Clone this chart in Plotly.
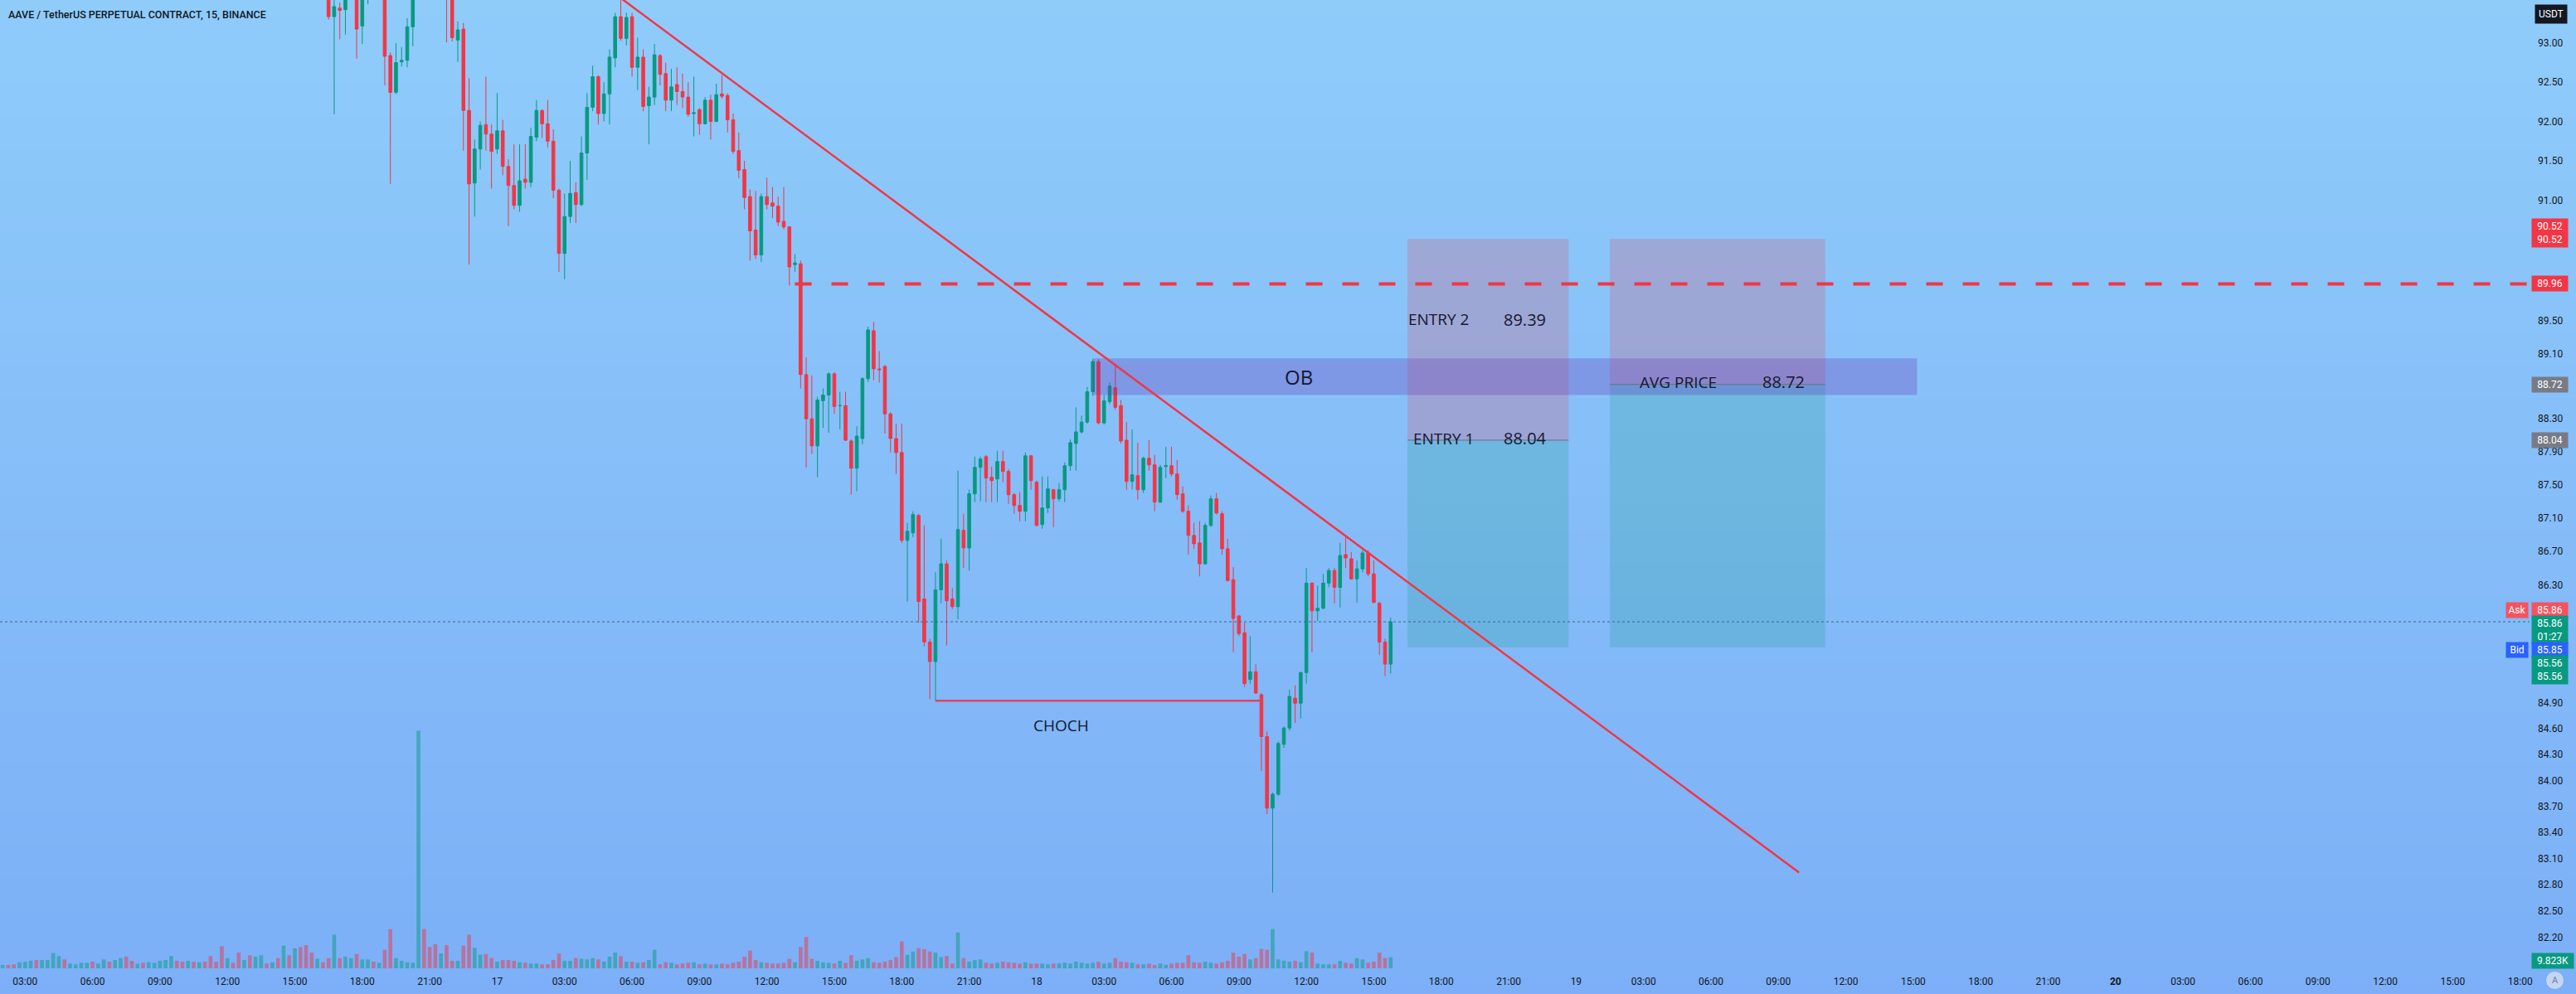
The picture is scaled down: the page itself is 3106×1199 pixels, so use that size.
import numpy as np
import pandas as pd
import plotly.graph_objects as go

# ---------------- data ----------------
VOL_START = "2023-01-16 02:00"      # first volume bar (15 min bars)
CANDLE_START = "2023-01-16 16:30"   # first candle visible in the price window

open_ = [
    93.75, 93.34, 93.45, 93.43, 93.62, 93.88, 93.22, 93.65, 93.82, 93.70,
    93.90, 92.84, 92.37, 92.76, 92.78, 93.21, 93.65, 94.10, 93.85, 93.75,
    93.70, 93.80, 93.60, 93.04, 93.18, 92.14, 91.22, 91.65, 91.96, 91.84,
    91.65, 91.88, 91.43, 91.19, 90.94, 91.27, 91.23, 91.80, 92.14, 91.97,
    91.75, 91.13, 90.34, 90.80, 91.10, 90.95, 91.60, 92.18, 92.57, 92.10,
    92.35, 92.81, 93.34, 93.06, 93.34, 92.69, 92.82, 92.20, 92.31, 92.84,
    92.61, 92.27, 92.47, 92.38, 92.31, 92.10, 92.15, 91.97, 92.27, 92.00,
    92.35, 92.33, 92.02, 91.63, 91.39, 91.05, 90.63, 90.32, 91.05, 90.97,
    90.93, 90.74, 90.67, 90.20, 90.21, 88.84, 88.30, 87.97, 88.52, 88.59,
    88.85, 88.46, 88.46, 88.03, 87.70, 88.06, 88.79, 89.38, 88.91, 88.94,
    88.36, 88.06, 87.89, 86.83, 86.92, 87.13, 86.13, 85.62, 85.39, 86.24,
    86.55, 86.13, 86.04, 86.95, 86.74, 87.39, 87.71, 87.84, 87.59, 87.57,
    87.78, 87.66, 87.38, 87.25, 87.18, 87.85, 87.53, 87.02, 87.22, 87.44,
    87.33, 87.44, 87.73, 88.00, 88.14, 88.26, 88.63, 89.00, 88.25, 88.51,
    88.68, 88.46, 88.04, 87.54, 87.61, 87.44, 87.82, 87.74, 87.29, 87.72,
    87.73, 87.63, 87.39, 87.18, 86.89, 86.80, 86.55, 87.01, 87.33, 87.15,
    86.73, 86.36, 85.93, 85.73, 85.18, 85.27, 85.00, 84.51, 83.68, 83.84,
    84.42, 84.61, 84.96, 84.90, 85.26, 86.32, 85.99, 86.02, 86.32, 86.47,
    86.27, 86.66, 86.61, 86.37, 86.49, 86.68, 86.43, 86.08, 85.62, 85.36,
]
high = [
    93.90, 93.60, 93.52, 93.70, 93.98, 93.95, 93.75, 93.95, 94.10, 94.00,
    94.00, 92.88, 93.00, 92.95, 93.32, 93.75, 94.40, 94.30, 94.05, 93.95,
    93.90, 93.88, 93.65, 93.28, 93.26, 92.55, 91.77, 92.00, 92.57, 91.96,
    92.36, 92.02, 91.52, 91.71, 91.71, 91.71, 91.92, 92.27, 92.15, 92.27,
    91.90, 91.15, 91.09, 91.50, 91.23, 91.81, 92.36, 92.71, 92.59, 92.50,
    92.92, 93.39, 93.60, 93.39, 93.39, 93.07, 92.92, 92.44, 92.99, 92.86,
    92.75, 92.67, 92.69, 92.61, 92.50, 92.57, 92.17, 92.31, 92.34, 92.48,
    92.59, 92.36, 92.10, 91.86, 91.50, 91.14, 91.12, 91.09, 91.29, 91.17,
    91.05, 91.17, 90.68, 90.33, 90.25, 89.05, 88.83, 88.57, 88.67, 88.87,
    88.87, 88.63, 88.63, 88.05, 88.21, 88.81, 89.43, 89.49, 89.13, 88.96,
    88.38, 88.24, 88.24, 87.04, 87.18, 87.15, 87.01, 85.66, 86.45, 86.85,
    86.59, 86.26, 87.67, 87.15, 87.44, 87.84, 87.84, 87.86, 87.72, 87.91,
    87.91, 87.69, 87.40, 87.41, 87.89, 87.86, 87.55, 87.60, 87.60, 87.45,
    87.52, 87.77, 88.05, 88.44, 88.34, 88.69, 89.03, 89.03, 88.59, 88.74,
    88.95, 88.53, 88.26, 88.17, 88.01, 87.84, 88.04, 87.86, 87.74, 87.96,
    87.96, 87.80, 87.48, 87.25, 87.04, 87.06, 87.04, 87.37, 87.40, 87.18,
    86.85, 86.51, 85.94, 85.85, 85.69, 85.36, 85.02, 84.57, 83.86, 84.45,
    84.63, 85.06, 85.11, 85.27, 86.50, 86.33, 86.29, 86.43, 86.50, 86.50,
    86.80, 86.87, 86.69, 86.59, 86.71, 86.71, 86.59, 86.10, 85.66, 85.91,
]
low = [
    93.30, 92.09, 93.05, 93.11, 93.58, 92.80, 92.99, 93.50, 93.60, 93.62,
    92.46, 91.21, 92.35, 92.70, 92.69, 92.96, 93.58, 93.70, 93.62, 93.60,
    93.58, 93.01, 93.02, 92.76, 91.63, 90.20, 90.80, 91.39, 91.63, 91.15,
    91.59, 91.32, 90.68, 90.89, 90.86, 91.15, 91.17, 91.75, 91.79, 91.67,
    91.03, 90.11, 90.02, 90.72, 90.72, 90.93, 91.26, 92.13, 91.96, 92.00,
    91.96, 92.69, 93.03, 92.97, 92.57, 92.40, 92.13, 91.71, 92.21, 92.46,
    92.13, 92.13, 92.21, 92.17, 92.06, 91.81, 91.83, 91.96, 91.77, 91.99,
    92.29, 91.86, 91.59, 91.28, 90.89, 90.25, 90.27, 90.23, 90.89, 90.78,
    90.68, 90.64, 89.94, 90.11, 88.67, 87.71, 87.87, 87.59, 88.19, 88.13,
    88.36, 88.17, 88.03, 87.38, 87.42, 87.99, 88.75, 88.77, 88.74, 88.12,
    87.89, 87.63, 86.80, 86.10, 86.87, 85.85, 85.57, 84.95, 84.93, 86.08,
    85.58, 86.01, 85.89, 86.50, 86.47, 87.29, 87.30, 87.29, 87.29, 87.29,
    87.53, 87.27, 87.15, 87.06, 87.06, 87.44, 87.00, 86.97, 87.16, 86.99,
    87.30, 87.29, 87.67, 87.67, 88.12, 88.24, 88.58, 88.23, 88.23, 88.48,
    88.41, 88.00, 87.44, 87.44, 87.32, 87.40, 87.67, 87.18, 87.28, 87.58,
    87.60, 87.32, 87.16, 86.66, 86.73, 86.40, 86.54, 86.99, 87.14, 86.66,
    86.34, 85.50, 85.69, 85.09, 85.13, 85.01, 84.11, 83.61, 82.71, 83.82,
    84.38, 84.58, 84.67, 84.72, 85.13, 85.50, 85.87, 86.01, 86.27, 86.08,
    86.03, 86.50, 86.36, 86.09, 86.45, 86.40, 86.08, 85.47, 85.22, 85.25,
]
close = [
    93.34, 93.47, 93.42, 93.62, 93.88, 93.18, 93.65, 93.82, 93.70, 93.90,
    92.83, 92.37, 92.75, 92.78, 93.21, 93.65, 94.10, 93.85, 93.75, 93.70,
    93.80, 93.60, 93.07, 93.17, 92.14, 91.21, 91.65, 91.95, 91.84, 91.62,
    91.88, 91.43, 91.19, 90.94, 91.25, 91.23, 91.81, 92.14, 91.97, 91.75,
    91.13, 90.34, 90.80, 91.09, 90.95, 91.60, 92.18, 92.57, 92.10, 92.35,
    92.82, 93.34, 93.06, 93.33, 92.69, 92.82, 92.19, 92.31, 92.85, 92.60,
    92.27, 92.44, 92.38, 92.31, 92.09, 92.11, 91.97, 92.27, 92.00, 92.34,
    92.32, 92.02, 91.62, 91.38, 91.04, 90.62, 90.32, 91.05, 90.95, 90.93,
    90.73, 90.67, 90.17, 90.22, 88.84, 88.30, 87.97, 88.53, 88.59, 88.85,
    88.45, 88.46, 88.04, 87.70, 88.09, 88.79, 89.39, 88.91, 88.90, 88.36,
    88.06, 87.89, 86.83, 86.94, 87.14, 86.10, 85.62, 85.39, 86.24, 86.55,
    86.11, 86.04, 86.96, 86.74, 87.39, 87.71, 87.81, 87.58, 87.55, 87.78,
    87.66, 87.38, 87.25, 87.18, 87.85, 87.55, 87.01, 87.22, 87.45, 87.33,
    87.44, 87.73, 88.01, 88.14, 88.26, 88.63, 89.00, 88.25, 88.52, 88.70,
    88.44, 88.03, 87.54, 87.62, 87.44, 87.82, 87.74, 87.29, 87.71, 87.73,
    87.63, 87.38, 87.18, 86.89, 86.79, 86.55, 87.01, 87.33, 87.16, 86.73,
    86.35, 85.90, 85.72, 85.13, 85.27, 85.02, 84.51, 83.68, 83.84, 84.43,
    84.61, 84.98, 84.90, 85.26, 86.32, 85.99, 86.02, 86.32, 86.47, 86.27,
    86.65, 86.62, 86.37, 86.49, 86.68, 86.43, 86.09, 85.62, 85.36, 85.86,
]

# volume in thousands, one bar per 15 min starting at VOL_START
volume_k = [
    3.0, 3.0, 3.5, 5.4, 5.9, 6.7, 7.4, 7.4, 7.4, 13.6,
    10.9, 7.9, 4.2, 3.5, 4.9, 4.9, 5.9, 4.2, 7.9, 5.9,
    7.4, 9.1, 10.4, 6.7, 4.2, 4.9, 5.4, 4.9, 6.7, 7.4,
    10.9, 6.7, 5.9, 6.7, 5.9, 5.4, 5.9, 10.9, 5.9, 19.7,
    9.1, 4.9, 14.0, 7.4, 11.6, 10.4, 11.6, 4.2, 5.4, 9.1,
    20.2, 11.6, 17.8, 19.0, 20.7, 14.0, 8.4, 5.4, 9.1, 30.0,
    9.1, 10.4, 9.1, 12.8, 7.9, 7.9, 5.9, 4.9, 16.5, 35.0,
    9.1, 6.7, 5.4, 4.9, 212.0, 35.0, 19.0, 21.5, 13.3, 20.7,
    6.7, 6.7, 20.2, 30.0, 18.3, 12.3, 12.8, 9.1, 5.9, 7.4,
    7.4, 6.7, 5.4, 4.9, 4.2, 4.2, 3.5, 3.5, 7.4, 13.3,
    6.7, 6.7, 9.1, 8.4, 7.9, 9.1, 7.9, 5.9, 10.4, 14.0,
    10.9, 5.9, 5.9, 4.9, 5.4, 7.4, 16.5, 3.5, 5.4, 4.9,
    3.5, 4.2, 4.9, 5.4, 3.5, 4.2, 3.5, 3.5, 4.2, 3.5,
    4.9, 5.9, 10.4, 15.8, 7.4, 5.4, 4.9, 4.2, 4.2, 4.9,
    8.4, 5.4, 19.0, 28.0, 8.4, 6.7, 5.4, 4.9, 4.2, 6.7,
    4.9, 11.6, 6.7, 7.9, 9.1, 5.4, 4.9, 5.9, 7.4, 10.0,
    24.0, 12.0, 15.0, 18.0, 17.0, 15.0, 14.0, 10.0, 11.0, 4.2,
    32.0, 9.1, 6.0, 7.4, 7.9, 4.9, 4.2, 4.9, 5.9, 5.4,
    4.9, 4.2, 5.4, 4.2, 4.2, 4.2, 3.5, 4.2, 4.2, 4.9,
    4.2, 5.9, 4.9, 4.2, 4.9, 5.9, 4.2, 4.9, 9.1, 5.9,
    5.4, 4.9, 3.5, 3.5, 4.2, 3.0, 4.2, 3.0, 4.2, 4.9,
    4.9, 11.6, 5.4, 4.9, 5.9, 4.9, 4.2, 5.4, 6.7, 14.0,
    10.4, 12.8, 7.9, 9.1, 17.3, 16.5, 35.0, 7.9, 6.7, 5.9,
    6.7, 5.4, 15.3, 14.0, 4.2, 3.5, 3.5, 3.5, 6.7, 4.9,
    4.2, 9.1, 7.9, 4.9, 5.9, 14.0, 9.1, 9.823,
]
# direction of the volume bars whose candles sit above the visible price window
early_up = [
    1, 0, 0, 1, 1, 1, 0, 1, 1, 1,
    1, 0, 1, 1, 1, 1, 0, 1, 1, 0,
    1, 1, 0, 0, 1, 0, 1, 1, 1, 1,
    1, 0, 0, 1, 0, 1, 0, 0, 0, 0,
    1, 0, 0, 1, 0, 1, 1, 0, 1, 0,
    1, 0, 1, 0, 0, 0, 1, 0,
]

price_ticks = [93.00, 92.50, 92.00, 91.50, 91.00, 89.50, 89.10, 88.30, 87.90,
               87.50, 87.10, 86.70, 86.30, 84.90, 84.60, 84.30, 84.00, 83.70,
               83.40, 83.10, 82.80, 82.50, 82.20]

STOP = 90.52
ENTRY_2 = 89.39
ENTRY_1 = 88.04
AVG_PRICE = 88.72
TARGET = 85.56
RES_LEVEL = 89.96
LAST = 85.86
BID = 85.85
CHOCH_LEVEL = 84.93
OB_TOP, OB_BOTTOM = 89.04, 88.59
LAST_VOL = 9.823

trend_times = ["2023-01-17 05:30", "2023-01-19 09:55"]
trend_prices = [93.58, 82.94]
choch_times = ["2023-01-17 19:30", "2023-01-18 10:00"]
ob_times = ["2023-01-18 02:30", "2023-01-19 15:10"]
posA_times = ["2023-01-18 16:30", "2023-01-18 23:40"]
posB_times = ["2023-01-19 01:30", "2023-01-19 11:05"]
res_start = "2023-01-17 13:15"

X_RANGE = ["2023-01-16 01:53", "2023-01-20 18:25"]
Y_RANGE = [81.85, 93.555]
VOL_MAX = 864.0

TITLE = "AAVE / TetherUS PERPETUAL CONTRACT, 15, BINANCE"

# ---------------- time -> bar index (15 min bars) ----------------
T0 = pd.Timestamp("2023-01-16 00:00")
STEP = pd.Timedelta("15min")

def bx(t):
    return float((pd.Timestamp(t) - T0) / STEP)

candle_x = [bx(t) for t in pd.date_range(CANDLE_START, periods=len(open_), freq="15min")]
vol_x = [bx(t) for t in pd.date_range(VOL_START, periods=len(volume_k), freq="15min")]

# ---------------- styling ----------------
W, H = 3106, 1199
ML, MR, MT, MB = 0, 56, 0, 31
PW, PH = W - ML - MR, H - MT - MB
UP, DOWN = "#089981", "#F23645"
TXT = "#131722"
FONT = "Roboto"
CHART_FONT = "Open Sans"

vol_up = list(early_up) + [1 if c >= o else 0 for o, c in zip(open_, close)]

fig = go.Figure()

# volume columns (bottom overlay), one trace per colour, drawn as vertical strokes
for flag, col in ((1, "rgba(8,153,129,0.5)"), (0, "rgba(242,54,69,0.5)")):
    xs, ys = [], []
    for x, v, u in zip(vol_x, volume_k, vol_up):
        if u == flag:
            xs += [x, x, None]
            ys += [0, v, None]
    fig.add_trace(go.Scatter(x=xs, y=ys, mode="lines", line=dict(color=col, width=4.6),
                             xaxis="x", yaxis="y", hoverinfo="skip", connectgaps=False))

def rect(t0, t1, p_top, p_bot, color):
    a, b = bx(t0), bx(t1)
    fig.add_trace(go.Scatter(x=[a, b, b, a, a], y=[p_top, p_top, p_bot, p_bot, p_top],
                             mode="lines", fill="toself", fillcolor=color, line=dict(width=0),
                             xaxis="x", yaxis="y2", hoverinfo="skip"))

STOP_FILL = "rgba(242,54,69,0.20)"
TGT_FILL = "rgba(8,153,129,0.20)"
rect(posA_times[0], posA_times[1], STOP, ENTRY_1, STOP_FILL)
rect(posA_times[0], posA_times[1], ENTRY_1, TARGET, TGT_FILL)
rect(posB_times[0], posB_times[1], STOP, AVG_PRICE, STOP_FILL)
rect(posB_times[0], posB_times[1], AVG_PRICE, TARGET, TGT_FILL)
rect(ob_times[0], ob_times[1], OB_TOP, OB_BOTTOM, "rgba(104,59,181,0.30)")

def hline(t0, t1, p0, p1, **line):
    fig.add_trace(go.Scatter(x=[bx(t0), bx(t1)], y=[p0, p1], mode="lines", line=line,
                             xaxis="x", yaxis="y2", hoverinfo="skip"))

# current price dotted line
hline(X_RANGE[0], X_RANGE[1], LAST, LAST, color="#3f6690", width=1, dash="dot")

# candles
fig.add_trace(go.Candlestick(
    x=candle_x, open=open_, high=high, low=low, close=close,
    increasing=dict(line=dict(color=UP, width=1), fillcolor=UP),
    decreasing=dict(line=dict(color=DOWN, width=1), fillcolor=DOWN),
    whiskerwidth=0, xaxis="x", yaxis="y2", hoverinfo="skip"))

# entry lines inside the position boxes
hline(posA_times[0], posA_times[1], ENTRY_1, ENTRY_1, color="#6b7080", width=1)
hline(posB_times[0], posB_times[1], AVG_PRICE, AVG_PRICE, color="#6b7080", width=1)
# horizontal resistance (dashed)
hline(res_start, X_RANGE[1], RES_LEVEL, RES_LEVEL, color=DOWN, width=4, dash="20px,24px")
# trend line
hline(trend_times[0], trend_times[1], trend_prices[0], trend_prices[1], color=DOWN, width=2.5)
# CHOCH line
hline(choch_times[0], choch_times[1], CHOCH_LEVEL, CHOCH_LEVEL, color="#dd4466", width=2.5)

# ---------------- background gradient ----------------
shapes = []
top_c = np.array([143, 204, 250])
bot_c = np.array([124, 175, 247])
N = 60
for k in range(N):
    c = top_c + (bot_c - top_c) * (k + 0.5) / N
    y0px = k * H / N
    y1px = (k + 1) * H / N + 1
    shapes.append(dict(type="rect", xref="paper", yref="paper",
                       x0=-0.01, x1=(W + 10) / PW,
                       y0=1 - y1px / PH, y1=1 - y0px / PH,
                       fillcolor="rgb(%d,%d,%d)" % tuple(c.round()), line=dict(width=0), layer="below"))
# auto-scale "A" button
shapes.append(dict(type="circle", xref="paper", yref="paper",
                   x0=(3070 - ML) / PW, x1=(3091 - ML) / PW,
                   y0=-25 / PH, y1=-4 / PH, fillcolor="#c5d6f2", line=dict(width=0), layer="above"))

# ---------------- annotations ----------------
ann = []
lg = np.log10

def chart_text(text, t, price, xshift, yshift, size, xanchor="left"):
    ann.append(dict(text=text, x=bx(t), y=lg(price), xref="x", yref="y2", xanchor=xanchor,
                    yanchor="middle", xshift=xshift, yshift=yshift, showarrow=False,
                    font=dict(family=CHART_FONT, size=size, color="#15172e", weight=500)))

chart_text("ENTRY 2", posA_times[0], ENTRY_2, -1, 13, 19)
chart_text("%.2f" % ENTRY_2, posA_times[0], ENTRY_2, 114, 12, 20)
chart_text("ENTRY 1", posA_times[0], ENTRY_1, 5, 2, 19)
chart_text("%.2f" % ENTRY_1, posA_times[0], ENTRY_1, 114, 2, 20)
chart_text("AVG PRICE", posB_times[0], AVG_PRICE, 34, 3, 19)
chart_text("%.2f" % AVG_PRICE, posB_times[0], AVG_PRICE, 182, 3, 20)
chart_text("OB", ob_times[0], np.sqrt(OB_TOP * OB_BOTTOM), 248, 0, 24, xanchor="center")
chart_text("CHOCH", choch_times[0], CHOCH_LEVEL, 152, -30, 19, xanchor="center")

def axis_label(text, price, bg, yshift=0, yref="y2", width=39):
    ann.append(dict(text=text, x=1, xref="paper", xanchor="left", xshift=2,
                    y=lg(price) if yref == "y2" else price, yref=yref, yanchor="middle",
                    yshift=yshift, showarrow=False, bgcolor=bg, borderpad=2, width=width,
                    align="center", font=dict(family=FONT, size=12, color="white")))

axis_label("%.2f<br>%.2f" % (STOP, STOP), STOP, DOWN, 7)
axis_label("%.2f" % RES_LEVEL, RES_LEVEL, DOWN, 0)
axis_label("%.2f" % AVG_PRICE, AVG_PRICE, "#787B86", 0)
axis_label("%.2f" % ENTRY_1, ENTRY_1, "#787B86", 0)
axis_label("%.2f" % LAST, LAST, "#F7525F", 14)
axis_label("%.2f<br>01:27" % LAST, LAST, UP, -10)
axis_label("%.2f" % BID, BID, "#2962FF", -33)
axis_label("%.2f<br>%.2f" % (TARGET, TARGET), TARGET, UP, -27)
axis_label("%.3fK" % LAST_VOL, LAST_VOL, UP, -4, yref="y", width=46)

for txt, price, bg, ys in (("Ask", LAST, "#F7525F", 14), ("Bid", BID, "#2962FF", -33)):
    ann.append(dict(text=txt, x=1, xref="paper", xanchor="right", xshift=-1,
                    y=lg(price), yref="y2", yanchor="middle", yshift=ys, showarrow=False,
                    bgcolor=bg, borderpad=2, width=22, align="center",
                    font=dict(family=FONT, size=12, color="white")))

ann.append(dict(text="USDT", x=1, xref="paper", xanchor="left", xshift=6, y=1, yref="paper",
                yanchor="top", yshift=-5, showarrow=False, bgcolor=TXT, borderpad=4,
                font=dict(family=FONT, size=12, color="white")))
ann.append(dict(text="A", x=(3080.5 - ML) / PW, xref="paper", xanchor="center",
                y=-14.5 / PH, yref="paper", yanchor="middle", showarrow=False,
                font=dict(family=FONT, size=11, color="#6f7f9a")))
ann.append(dict(text=TITLE, x=0, xref="paper", xanchor="left", xshift=8, y=1, yref="paper",
                yanchor="middle", yshift=-17, showarrow=False,
                font=dict(family=FONT, size=12.5, color=TXT, weight=500)))

# ---------------- time ticks ----------------
tick_t = pd.date_range("2023-01-16 03:00", "2023-01-20 18:00", freq="3h")
tick_txt = []
for t in tick_t:
    if t.hour == 0:
        tick_txt.append("<b>%d</b>" % t.day if t.day == 20 else "%d" % t.day)
    else:
        tick_txt.append(t.strftime("%H:%M"))

fig.update_layout(
    width=W, height=H,
    margin=dict(l=ML, r=MR, t=MT, b=MB, autoexpand=False),
    paper_bgcolor="rgb(134,190,248)", plot_bgcolor="rgba(0,0,0,0)",
    showlegend=False, boxgap=0.25, hovermode=False,
    shapes=shapes, annotations=ann,
    xaxis=dict(range=[bx(X_RANGE[0]), bx(X_RANGE[1])], showgrid=False, zeroline=False,
               rangeslider=dict(visible=False), tickvals=[bx(t) for t in tick_t], ticktext=tick_txt,
               ticks="", ticklabelstandoff=7, showline=False,
               tickfont=dict(family=FONT, size=12, color=TXT)),
    yaxis=dict(range=[0, VOL_MAX], visible=False, fixedrange=True),
    yaxis2=dict(type="log", overlaying="y", side="right", range=[lg(Y_RANGE[0]), lg(Y_RANGE[1])],
                tickvals=price_ticks, ticktext=["%.2f" % v for v in price_ticks],
                showgrid=False, zeroline=False, showline=False, ticks="",
                ticklabelstandoff=9, tickfont=dict(family=FONT, size=12, color=TXT)),
)

fig.write_html("out.html", config={"displayModeBar": False},
               post_script="document.body.style.margin='0px';")
